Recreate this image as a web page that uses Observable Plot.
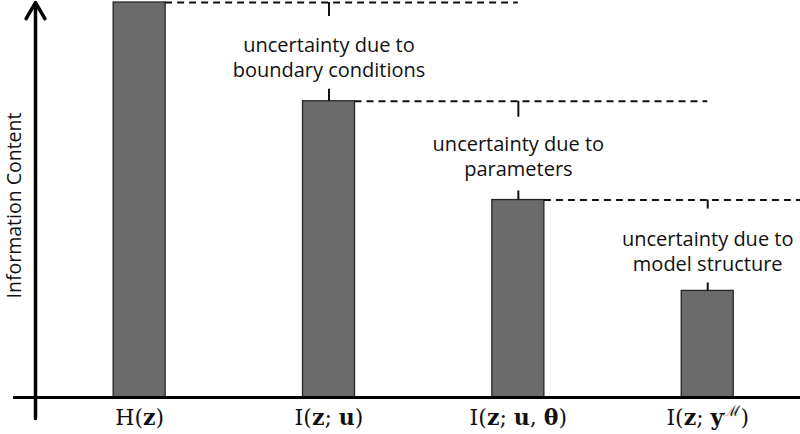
<!DOCTYPE html>
<html><head><meta charset="utf-8">
<script src="https://cdn.jsdelivr.net/npm/d3@7"></script>
<script src="https://cdn.jsdelivr.net/npm/@observablehq/plot@0.6"></script>
<style>body{margin:0;background:#fff} #chart{width:800px;height:434px}</style>
</head><body><div id="chart"></div>
<script>
// ---- data ----
const categories = ["H(z)", "I(z; u)", "I(z; u, θ)", "I(z; y^ℳ)"];
const infoContent = [100, 75, 50, 27];
const annotations = [
  "uncertainty due to\nboundary conditions",
  "uncertainty due to\nparameters",
  "uncertainty due to\nmodel structure"
];
const yLabel = "Information Content";
const boldSymbols = ["z", "u", "θ", "y"];

// ---- derived tables ----
const bars = categories.map((c, i) => ({i, c, v: infoContent[i]}));
const steps = annotations.map((t, i) => ({i, t, from: infoContent[i], to: infoContent[i + 1]}));

// ---- layout / style ----
const xDomain = [-0.55, 3.49];
const yDomain = [-5.3, 100];
const hw = 0.1373;          // half bar width in band units
const tickDown = [14, 16, 9];
const tickUp = [12, 9, 8];
const ink = "#111";

const plot = Plot.plot({
  width: 800, height: 434,
  marginLeft: 35, marginRight: 0, marginTop: 2, marginBottom: 16,
  x: {domain: xDomain, axis: null},
  y: {domain: yDomain, axis: null},
  style: {background: "#fff", overflow: "hidden"},
  marks: [
    Plot.rectY(bars, {x1: d => d.i - hw, x2: d => d.i + hw, y1: 0, y2: "v",
      fill: "#6b6b6b", stroke: "#262626", strokeWidth: 1.3}),
    Plot.ruleY(steps, {y: "from", x1: d => d.i + hw, x2: d => Math.min(d.i + 2, xDomain[1]),
      stroke: ink, strokeWidth: 2, strokeDasharray: "7,5"}),
    ...steps.map((s, k) => Plot.ruleX([s], {x: d => d.i + 1, y1: "from", y2: "from",
      insetBottom: -tickDown[k], stroke: ink, strokeWidth: 2})),
    ...steps.map((s, k) => Plot.ruleX([s], {x: d => d.i + 1, y1: "to", y2: "to",
      insetTop: -tickUp[k], stroke: ink, strokeWidth: 2})),
    Plot.text(steps, {x: d => d.i + 1, y: d => (d.from + d.to) / 2, text: "t", dy: 5,
      lineHeight: 1.25, fontFamily: "Open Sans", fontSize: 20, fill: ink}),
    Plot.ruleY([0], {insetLeft: -22, stroke: "#000", strokeWidth: 3}),
    Plot.arrow([0], {x1: xDomain[0], x2: xDomain[0], y1: yDomain[0], y2: yDomain[1],
      stroke: "#000", strokeWidth: 3.5, headAngle: 60, headLength: 8}),
    Plot.text(bars, {x: "i", y: 0, text: "c", dy: 20, fontFamily: "DejaVu Serif", fontSize: 22, fill: ink}),
    Plot.text([yLabel], {text: d => d, frameAnchor: "left", textAnchor: "middle", rotate: -90, dx: -21, dy: -5,
      fontFamily: "Open Sans", fontSize: 19.5, fill: ink})
  ]
});

// rich formatting of the category labels (bold vectors, superscript)
d3.select(plot).selectAll("text").filter(function() {
  return categories.includes(this.textContent);
}).each(function() {
  const s = this.textContent;
  const t = d3.select(this);
  t.text("");
  let pendingDown = 0;
  for (let k = 0; k < s.length; k++) {
    const ch = s[k];
    if (ch === "^") {
      const sup = s[++k];
      t.append("tspan").attr("dy", -9).attr("font-size", 15).text(sup);
      pendingDown = 9;
      continue;
    }
    const ts = t.append("tspan").text(ch);
    if (boldSymbols.includes(ch)) ts.attr("font-weight", "bold");
    if (pendingDown) { ts.attr("dy", pendingDown); pendingDown = 0; }
  }
});

document.getElementById("chart").appendChild(plot);
</script>
</body></html>
